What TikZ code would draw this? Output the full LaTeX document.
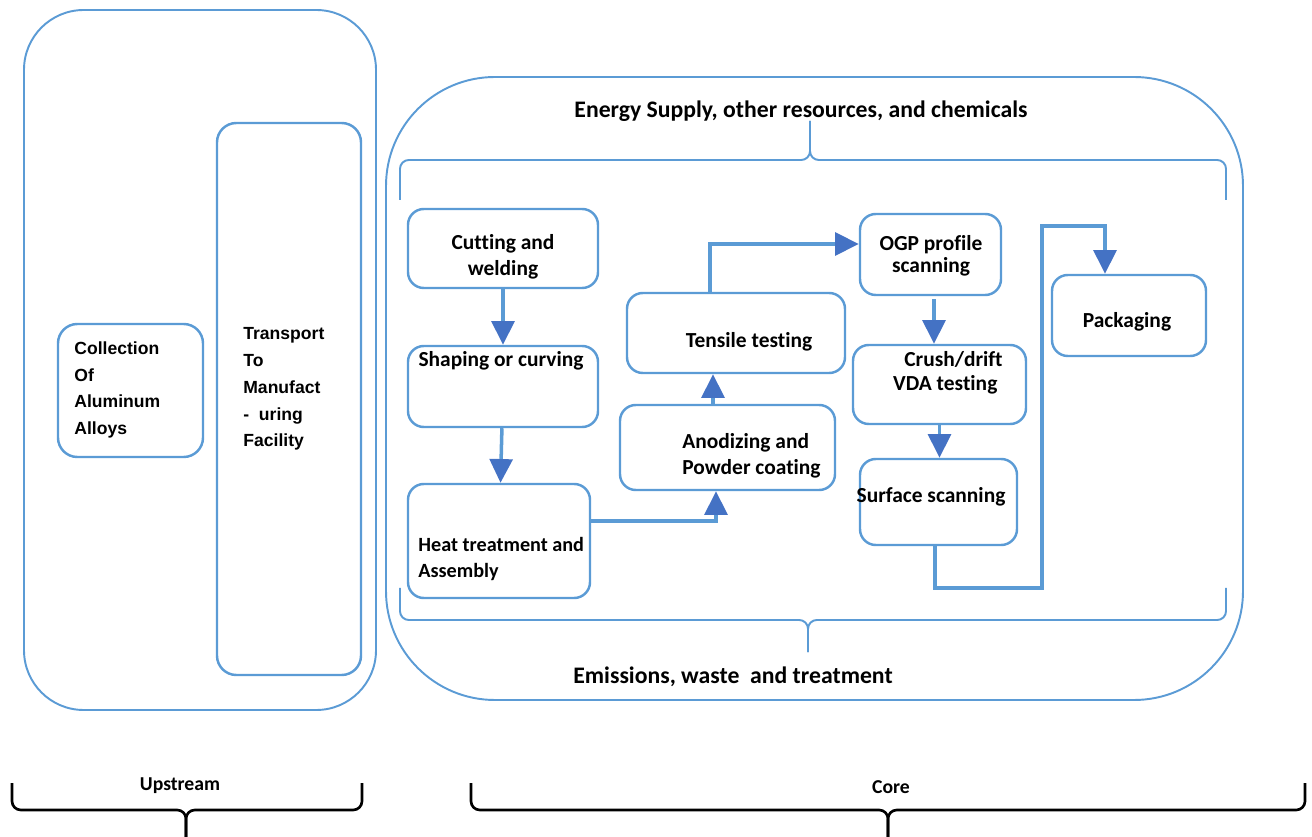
\documentclass[tikz,border=0pt]{standalone}
\usepackage{fontspec}
\setmainfont{Carlito}[Ligatures={NoCommon}]
\newfontfamily\upfont{Liberation Sans}
\usetikzlibrary{arrows.meta, fit, calc}
\definecolor{clrLine}{HTML}{5B9BD5}
\definecolor{clrHead}{HTML}{4472C4}
\tikzset{
  zone/.style = {
    rectangle, rounded corners=#1,
    draw=clrLine, line width=1.1pt, inner sep=0pt,
  },
  stepbox/.style = {
    rectangle, rounded corners=9pt,
    draw=clrLine, line width=1.4pt, inner sep=0pt,
  },
  upbox/.style  = {stepbox, rounded corners=11pt},
  txt/.style    = {font=\bfseries\fontsize{12.2}{14.7}\selectfont,
                   inner sep=0pt, align=center},
  bigtxt/.style = {txt, font=\bfseries\fontsize{13.5}{16}\selectfont},
  uptxt/.style  = {font=\upfont\bfseries\fontsize{10}{15.3}\selectfont,
                   inner sep=0pt, align=left, anchor=west},
  sidetxt/.style = {font=\bfseries\fontsize{11.2}{13}\selectfont, inner sep=0pt},
  arr/.style    = {draw=clrLine, line width=2pt,
                   -{Triangle[length=13.5pt, width=13pt, color=clrHead]}},
  bracket/.style    = {draw=clrLine, line width=1.1pt, rounded corners=5pt},
  blkbracket/.style = {draw=black, line width=1.5pt, rounded corners=5pt},
}

\begin{document}
\begin{tikzpicture}[x=0.02cm, y=0.02cm]

\useasboundingbox (0,0) rectangle (1312,-837);

% ── Upstream ──────────────────────────────────────────────────
\node[zone=34pt, fit={(24,-10) (376,-710)}]   (upzone) {};
\node[upbox, fit={(58,-324) (203,-457)}]      (coll)   {};
\node[upbox, fit={(217,-123) (361,-675)}]     (trans)  {};

\node[uptxt] (colltxt)  at (74,-390)  {Collection\\Of\\Aluminum\\Alloys};
\node[uptxt] (transtxt) at (243,-389) {Transport\\To\\Manufact\\-\ \ uring\\Facility};

% ── Core ──────────────────────────────────────────────────────
\node[zone=62pt, fit={(386,-77) (1243,-700)}] (corezone) {};

\node[bigtxt] (energy) at (801,-111) {Energy Supply, other resources, and chemicals};
\node[bigtxt] (emis)   at (733,-677) {Emissions, waste\ \ and treatment};

% inputs / outputs brackets
\draw[bracket] (400,-200) -- (400,-160) -- (810,-160) -- (810,-121);
\draw[bracket] (810,-121) -- (810,-160) -- (1226,-160) -- (1226,-200);
\draw[bracket] (400,-588) -- (400,-620) -- (808,-620) -- (808,-652);
\draw[bracket] (808,-652) -- (808,-620) -- (1226,-620) -- (1226,-588);

% process steps
\node[stepbox, fit={(408,-209) (598,-288)}]  (cut)   {};
\node[stepbox, fit={(408,-346) (598,-427)}]  (shape) {};
\node[stepbox, fit={(408,-484) (590,-598)}]  (heat)  {};
\node[stepbox, fit={(620,-405) (835,-490)}]  (anod)  {};
\node[stepbox, fit={(627,-293) (845,-373)}]  (tens)  {};
\node[stepbox, fit={(860,-214) (1001,-295)}] (ogp)   {};
\node[stepbox, fit={(853,-345) (1026,-424)}] (crush) {};
\node[stepbox, fit={(860,-459) (1017,-545)}] (surf)  {};
\node[stepbox, fit={(1052,-275) (1206,-356)}] (pack) {};

\node[txt] (cuttxt)   at (503,-257) {Cutting and\\welding};
\node[txt] (shapetxt) at (501,-361) {Shaping or curving};
\node[txt, align=left, anchor=west, font=\bfseries\fontsize{11.5}{14.7}\selectfont]
  (heattxt) at (418,-559) {Heat treatment and\\Assembly};
\node[txt, align=left, anchor=west] (anodtxt) at (682,-456) {Anodizing and\\Powder coating};
\node[txt] (tenstxt)  at (749,-342) {Tensile testing};
\node[txt] (ogptxt)   at (931,-256) {OGP profile\\[-2pt]scanning};
\node[txt, align=right, anchor=east] (crushtxt) at (1003,-373) {Crush/drift\\[-1pt]VDA testing\kern3pt};
\node[txt] (surftxt)  at (931,-497) {Surface scanning};
\node[txt] (packtxt)  at (1127,-322) {Packaging};

% flow
\draw[arr] (cut) -- (shape);
\draw[arr] (shape) -- (heat);
\draw[arr] ($(heat.east)+(0,20)$) -| ($(anod.south)+(-11.5,0)$);
\draw[arr] ($(anod.north)+(-14.5,0)$) -- ($(anod.north |- tens.south)+(-14.5,0)$);
\draw[arr] ($(tens.north)+(-26,0)$) |- ($(ogp.west)+(0,10.5)$);
\draw[arr] ($(ogp.south)+(3.5,-3)$) -- ($(ogp.south |- crush.north)+(3.5,0)$);
\draw[arr] (crush.south) -- (crush.south |- surf.north);
\draw[arr] ($(surf.south)+(-3.5,0)$) -- ++(0,-42) -- ++(107,0) -- ++(0,362)
           -| ($(pack.north)+(-24,0)$);

% ── Stage braces ──────────────────────────────────────────────
\draw[blkbracket] (12,-783) -- (12,-810) -- (186,-810) -- (186,-837);
\draw[blkbracket] (186,-837) -- (186,-810) -- (362,-810) -- (362,-783);
\draw[blkbracket] (471,-783) -- (471,-810) -- (888,-810) -- (888,-837);
\draw[blkbracket] (888,-837) -- (888,-810) -- (1305,-810) -- (1305,-783);

\node[sidetxt] (uplbl)   at (180,-786) {Upstream};
\node[sidetxt] (corelbl) at (891,-787) {Core};

\end{tikzpicture}
\end{document}
